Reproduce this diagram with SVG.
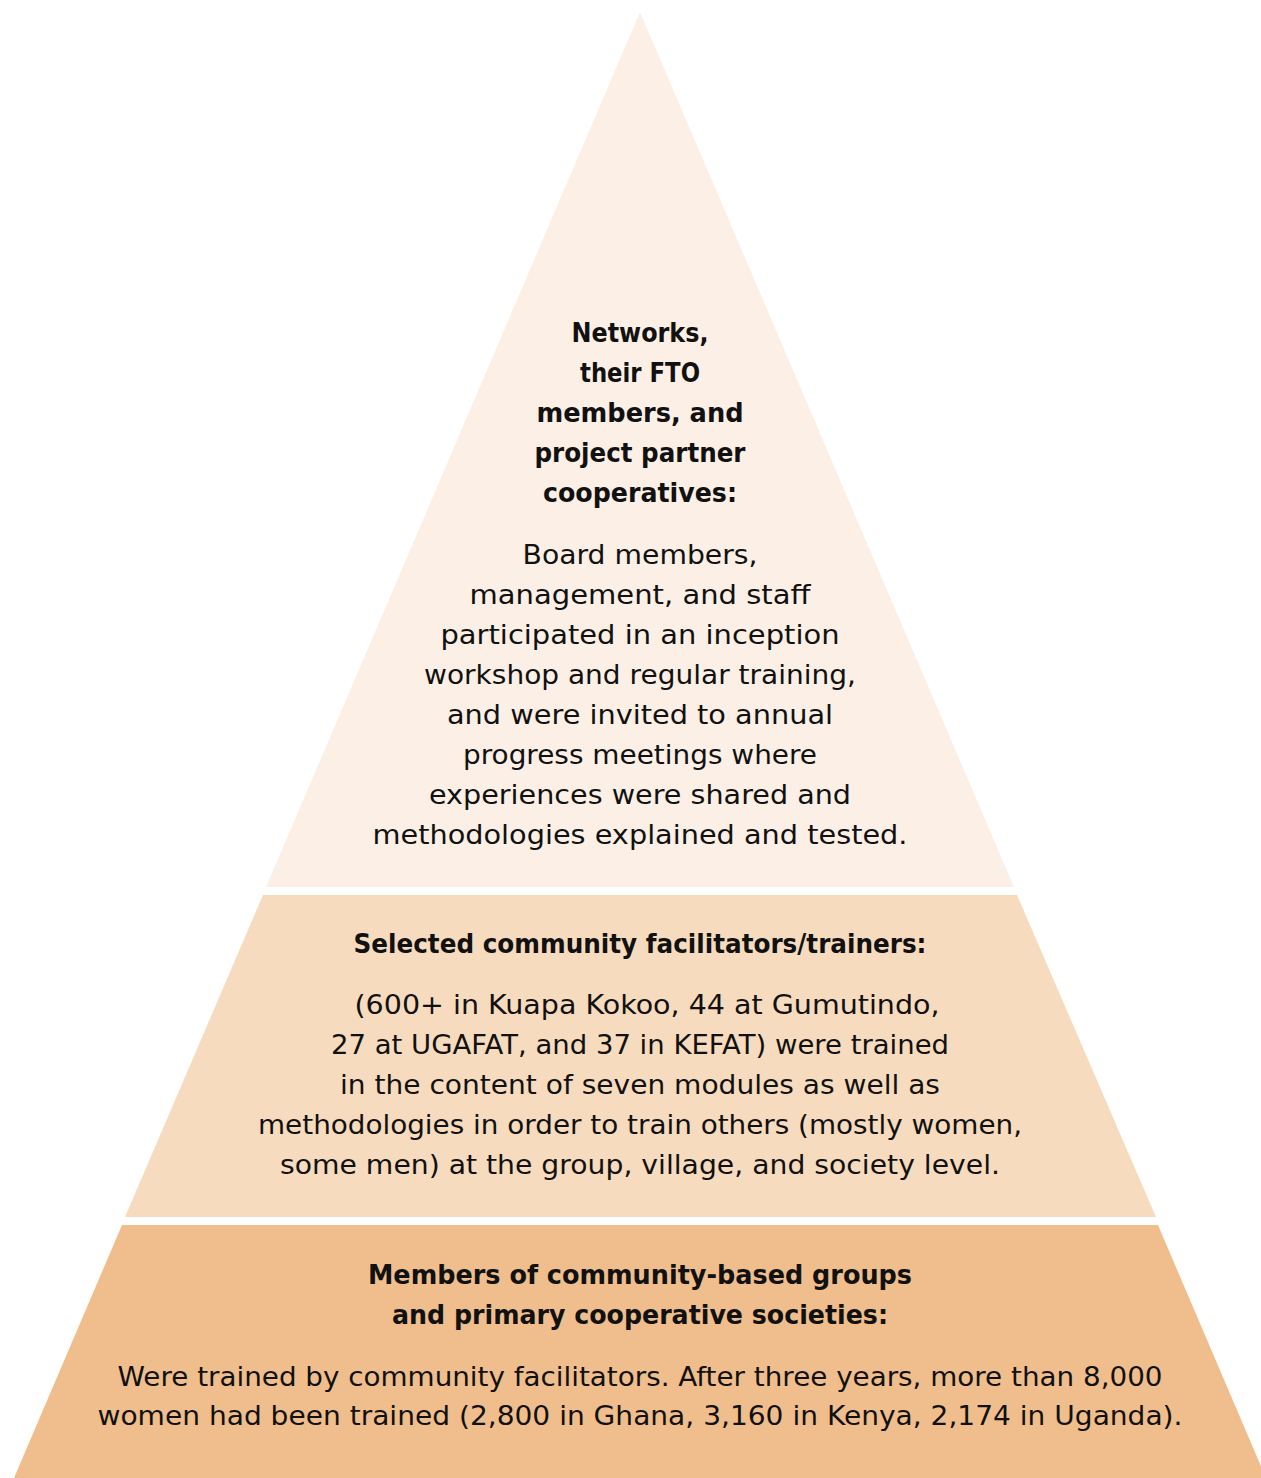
<svg xmlns="http://www.w3.org/2000/svg" width="1261" height="1478" viewBox="0 0 1261 1478">
<style>
.t{font-family:"DejaVu Sans","Liberation Sans",sans-serif;font-size:26px;fill:#111;text-anchor:middle}
.b{font-weight:bold;font-size:26px}
</style>
<rect width="1261" height="1478" fill="#ffffff"/>
<g id="tier-top">
<polygon points="640,12 1014,887 266,887" fill="#FCF0E6"/>
<text class="t b" x="640" y="342" textLength="137" lengthAdjust="spacingAndGlyphs">Networks,</text>
<text class="t b" x="640" y="382" textLength="120" lengthAdjust="spacingAndGlyphs">their FTO</text>
<text class="t b" x="640" y="422" textLength="207" lengthAdjust="spacingAndGlyphs">members, and</text>
<text class="t b" x="640" y="462" textLength="211" lengthAdjust="spacingAndGlyphs">project partner</text>
<text class="t b" x="640" y="502" textLength="194" lengthAdjust="spacingAndGlyphs">cooperatives:</text>
<text class="t" x="640" y="564" textLength="235" lengthAdjust="spacingAndGlyphs">Board members,</text>
<text class="t" x="640" y="604" textLength="341" lengthAdjust="spacingAndGlyphs">management, and staff</text>
<text class="t" x="640" y="644" textLength="399" lengthAdjust="spacingAndGlyphs">participated in an inception</text>
<text class="t" x="640" y="684" textLength="432" lengthAdjust="spacingAndGlyphs">workshop and regular training,</text>
<text class="t" x="640" y="724" textLength="386" lengthAdjust="spacingAndGlyphs">and were invited to annual</text>
<text class="t" x="640" y="764" textLength="354" lengthAdjust="spacingAndGlyphs">progress meetings where</text>
<text class="t" x="640" y="804" textLength="422" lengthAdjust="spacingAndGlyphs">experiences were shared and</text>
<text class="t" x="640" y="844" textLength="535" lengthAdjust="spacingAndGlyphs">methodologies explained and tested.</text>
</g>
<g id="tier-middle">
<polygon points="263,895 1017,895 1156,1217 125,1217" fill="#F7DBBE"/>
<text class="t b" x="640" y="953" textLength="573" lengthAdjust="spacingAndGlyphs">Selected community facilitators/trainers:</text>
<text class="t" x="647" y="1014" textLength="585" lengthAdjust="spacingAndGlyphs">(600+ in Kuapa Kokoo, 44 at Gumutindo,</text>
<text class="t" x="640" y="1054" textLength="618" lengthAdjust="spacingAndGlyphs">27 at UGAFAT, and 37 in KEFAT) were trained</text>
<text class="t" x="640" y="1094" textLength="600" lengthAdjust="spacingAndGlyphs">in the content of seven modules as well as</text>
<text class="t" x="640" y="1134" textLength="764" lengthAdjust="spacingAndGlyphs">methodologies in order to train others (mostly women,</text>
<text class="t" x="640" y="1174" textLength="720" lengthAdjust="spacingAndGlyphs">some men) at the group, village, and society level.</text>
</g>
<g id="tier-bottom">
<polygon points="122,1225 1158,1225 1266,1478 14,1478" fill="#F0BE8C"/>
<text class="t b" x="640" y="1284" textLength="544" lengthAdjust="spacingAndGlyphs">Members of community-based groups</text>
<text class="t b" x="640" y="1324" textLength="496" lengthAdjust="spacingAndGlyphs">and primary cooperative societies:</text>
<text class="t" x="640" y="1386" textLength="1045" lengthAdjust="spacingAndGlyphs">Were trained by community facilitators. After three years, more than 8,000</text>
<text class="t" x="640" y="1425" textLength="1085" lengthAdjust="spacingAndGlyphs">women had been trained (2,800 in Ghana, 3,160 in Kenya, 2,174 in Uganda).</text>
</g>
<g id="connectors"></g>
</svg>
